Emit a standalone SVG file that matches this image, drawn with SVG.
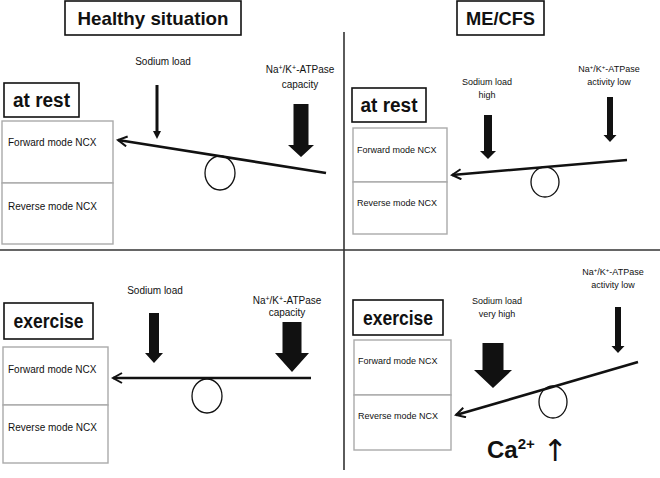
<svg xmlns="http://www.w3.org/2000/svg" width="660" height="478" viewBox="0 0 660 478">
<style>
text{font-family:"Liberation Sans",Arial,sans-serif;fill:#111}
.hdr{font-size:19px;font-weight:bold}
.lbl{font-size:20px;font-weight:bold}
.sm{font-size:10px}
.xs{font-size:9px}
.up{font-family:"DejaVu Sans",sans-serif;font-size:30px;fill:#111}
.hbox{fill:#fff;stroke:#111;stroke-width:1.6}
.ncx{fill:#fff;stroke:#aaa;stroke-width:1.4}
.div{stroke:#333;stroke-width:1.6;fill:none}
.lever{stroke:#111;stroke-width:2.6;fill:none;marker-end:url(#chev)}
.ful{fill:none;stroke:#111;stroke-width:1.3}
.blk{fill:#111}
</style>
<defs>
<marker id="chev" viewBox="0 0 12 12" refX="10" refY="6" markerWidth="12" markerHeight="12" markerUnits="userSpaceOnUse" orient="auto">
<path d="M1,1 L10,6 L1,11" fill="none" stroke="#111" stroke-width="2"/>
</marker>
</defs>
<rect width="660" height="478" fill="#fff"/>
<g id="dividers">
<line class="div" x1="0" y1="250" x2="660" y2="250"/>
<line class="div" x1="344" y1="32" x2="344" y2="470"/>
</g>
<g id="header-healthy"><rect class="hbox" x="65" y="1" width="176" height="34"/><text class="hdr" x="153" y="25" text-anchor="middle" textLength="151" lengthAdjust="spacingAndGlyphs">Healthy situation</text></g>
<g id="header-mecfs"><rect class="hbox" x="457" y="1" width="87" height="34"/><text class="hdr" x="500.5" y="25" text-anchor="middle" textLength="69" lengthAdjust="spacingAndGlyphs">ME/CFS</text></g>

<!-- Top-left -->
<g id="tl-label"><rect class="hbox" x="4" y="83" width="75" height="34"/><text class="lbl" x="41.5" y="107" text-anchor="middle" textLength="57" lengthAdjust="spacingAndGlyphs">at rest</text></g>
<g id="tl-forward"><rect class="ncx" x="2" y="121" width="111" height="62"/><text class="sm" x="8" y="146">Forward mode NCX</text></g>
<g id="tl-reverse"><rect class="ncx" x="2" y="183" width="111" height="61"/><text class="sm" x="8" y="210">Reverse mode NCX</text></g>
<g id="tl-sodium"><text class="sm" x="163" y="65" text-anchor="middle">Sodium load</text><polygon class="blk" points="155.5,85 158.5,85 158.5,131 161,131 157,139 153,131 155.5,131"/></g>
<g id="tl-atpase"><text class="sm" x="300" y="73" text-anchor="middle">Na<tspan dy="-3" font-size="7">+</tspan><tspan dy="3">/K</tspan><tspan dy="-3" font-size="7">+</tspan><tspan dy="3">-ATPase</tspan></text><text class="sm" x="300" y="88" text-anchor="middle">capacity</text><polygon class="blk" points="293.5,104 308.5,104 308.5,145 314,145 301,157 288,145 293.5,145"/></g>
<g id="tl-fulcrum"><ellipse class="ful" cx="220" cy="173" rx="15" ry="17"/></g>

<!-- Top-right -->
<g id="tr-label"><rect class="hbox" x="352" y="88" width="74" height="34"/><text class="lbl" x="389" y="112" text-anchor="middle" textLength="57" lengthAdjust="spacingAndGlyphs">at rest</text></g>
<g id="tr-forward"><rect class="ncx" x="353" y="128" width="94" height="54"/><text class="xs" x="357" y="153">Forward mode NCX</text></g>
<g id="tr-reverse"><rect class="ncx" x="353" y="182" width="94" height="52"/><text class="xs" x="357" y="206">Reverse mode NCX</text></g>
<g id="tr-sodium"><text class="xs" x="487" y="85" text-anchor="middle">Sodium load</text><text class="xs" x="487" y="98" text-anchor="middle">high</text><polygon class="blk" points="484,115 492,115 492,151 496,151 488,159 480,151 484,151"/></g>
<g id="tr-atpase"><text class="xs" x="609" y="72" text-anchor="middle">Na<tspan dy="-3" font-size="6">+</tspan><tspan dy="3">/K</tspan><tspan dy="-3" font-size="6">+</tspan><tspan dy="3">-ATPase</tspan></text><text class="xs" x="609" y="85" text-anchor="middle">activity low</text><polygon class="blk" points="607,97 613,97 613,135 616.5,135 610,142 603.5,135 607,135"/></g>
<g id="tr-fulcrum"><ellipse class="ful" cx="545" cy="182" rx="14" ry="15"/></g>

<!-- Bottom-left -->
<g id="bl-label"><rect class="hbox" x="4" y="303" width="89" height="36"/><text class="lbl" x="48.5" y="328" text-anchor="middle" textLength="70" lengthAdjust="spacingAndGlyphs">exercise</text></g>
<g id="bl-forward"><rect class="ncx" x="3" y="347" width="105" height="58"/><text class="sm" x="8" y="373">Forward mode NCX</text></g>
<g id="bl-reverse"><rect class="ncx" x="3" y="405" width="105" height="58"/><text class="sm" x="8" y="431">Reverse mode NCX</text></g>
<g id="bl-sodium"><text class="sm" x="155" y="294" text-anchor="middle">Sodium load</text><polygon class="blk" points="149,313 159,313 159,353 163,353 154,363 145,353 149,353"/></g>
<g id="bl-atpase"><text class="sm" x="287" y="304" text-anchor="middle">Na<tspan dy="-3" font-size="7">+</tspan><tspan dy="3">/K</tspan><tspan dy="-3" font-size="7">+</tspan><tspan dy="3">-ATPase</tspan></text><text class="sm" x="287" y="316" text-anchor="middle">capacity</text><polygon class="blk" points="282.5,322 301.5,322 301.5,353 309,353 292,372 275,353 282.5,353"/></g>
<g id="bl-fulcrum"><ellipse class="ful" cx="207" cy="396" rx="15" ry="17"/></g>

<!-- Bottom-right -->
<g id="br-label"><rect class="hbox" x="353" y="300" width="90" height="35"/><text class="lbl" x="398" y="325" text-anchor="middle" textLength="70" lengthAdjust="spacingAndGlyphs">exercise</text></g>
<g id="br-forward"><rect class="ncx" x="354" y="340" width="97" height="55"/><text class="xs" x="358" y="364">Forward mode NCX</text></g>
<g id="br-reverse"><rect class="ncx" x="354" y="395" width="97" height="55"/><text class="xs" x="358" y="419">Reverse mode NCX</text></g>
<g id="br-sodium"><text class="xs" x="497" y="304" text-anchor="middle">Sodium load</text><text class="xs" x="497" y="317" text-anchor="middle">very high</text><polygon class="blk" points="482.5,343 503.5,343 503.5,370 512,370 493,388 474,370 482.5,370"/></g>
<g id="br-atpase"><text class="xs" x="613" y="275" text-anchor="middle">Na<tspan dy="-3" font-size="6">+</tspan><tspan dy="3">/K</tspan><tspan dy="-3" font-size="6">+</tspan><tspan dy="3">-ATPase</tspan></text><text class="xs" x="613" y="288" text-anchor="middle">activity low</text><polygon class="blk" points="615,307 621,307 621,346 624.5,346 618,353 611.5,346 615,346"/></g>
<g id="br-fulcrum"><ellipse class="ful" cx="553" cy="402" rx="14" ry="16"/></g>
<g id="br-calcium"><text x="487" y="458" font-size="24" font-weight="bold">Ca<tspan dy="-9" font-size="15">2+</tspan></text><text class="up" x="555" y="461" text-anchor="middle">↑</text></g>

<g id="connectors">
<line class="lever" x1="326" y1="173" x2="118" y2="140"/>
<line class="lever" x1="627" y1="160" x2="452" y2="175"/>
<line class="lever" x1="311" y1="378" x2="113" y2="378"/>
<line class="lever" x1="638" y1="362" x2="456" y2="415"/>
</g>
</svg>
